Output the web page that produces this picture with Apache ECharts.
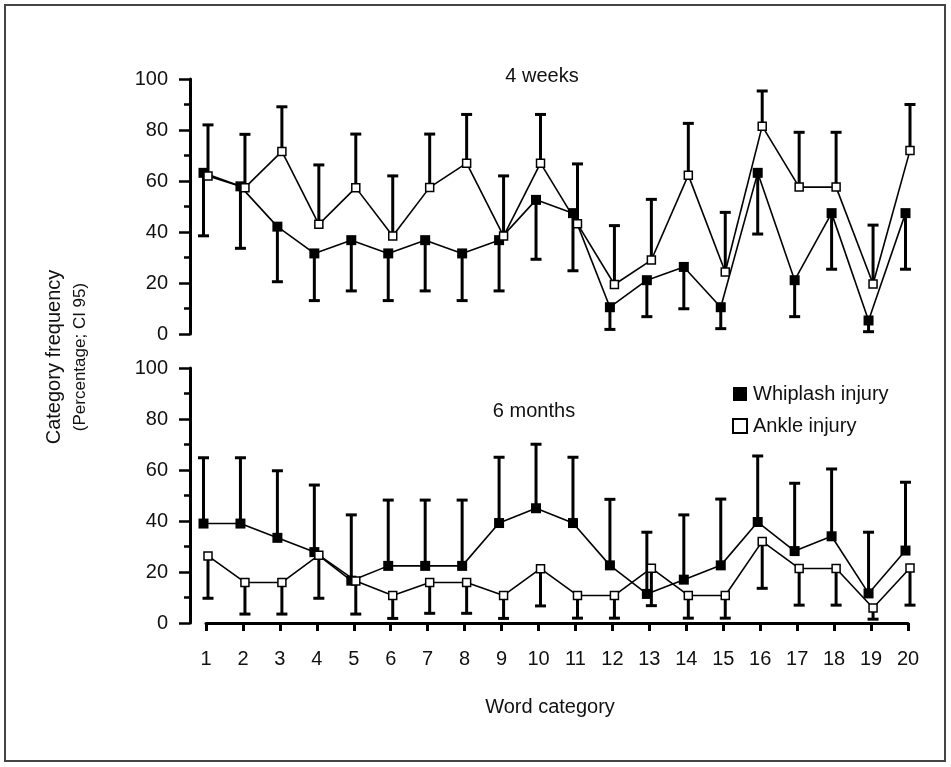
<!DOCTYPE html>
<html>
<head>
<meta charset="utf-8">
<script src="https://cdn.jsdelivr.net/npm/echarts@6/dist/echarts.min.js"></script>
<style>html,body{margin:0;padding:0;background:#fff}#c{width:951px;height:767px}</style>
</head>
<body>
<div id="c"></div>
<script>
// ---- data ----
var categories = [1,2,3,4,5,6,7,8,9,10,11,12,13,14,15,16,17,18,19,20];
var yTicks = [0,20,40,60,80,100];
// 4 weeks
var whip4   = [63.2,57.9,42.1,31.6,36.8,31.6,36.8,31.6,36.8,52.6,47.4,10.5,21.1,26.3,10.5,63.2,21.1,47.4,5.3,47.4];
var whip4Lo = [38.5,33.6,20.5,13.1,16.9,13.1,16.9,13.1,16.9,29.3,24.8,1.8,6.8,9.9,2.1,39.2,6.8,25.4,0.9,25.4];
var ankle4  = [62,57.4,71.6,43,57.4,38.4,57.5,67,38.4,67,43.2,19.4,29,62.3,24.3,81.5,57.6,57.6,19.6,72];
var ankle4Hi= [82,78.3,89.1,66.3,78.4,62,78.4,86.1,62,86.1,66.7,42.5,52.8,82.6,47.7,95.3,79.1,79.1,42.7,90];
// 6 months
var whip6   = [39,39,33.4,27.8,16.6,22.4,22.4,22.4,39.2,45,39.2,22.6,11.4,17,22.6,39.6,28.2,34,11.6,28.4];
var whip6Hi = [64.8,64.8,59.7,54.1,42.4,48.2,48.2,48.2,65,70.1,65,48.5,35.6,42.4,48.6,65.5,54.8,60.4,35.6,55.2];
var ankle6  = [26.3,15.9,15.9,26.6,16.5,10.8,15.9,15.9,10.8,21.3,10.8,10.8,21.5,10.8,10.8,32,21.4,21.4,5.9,21.6];
var ankle6Lo= [9.7,3.5,3.5,9.7,3.5,1.8,3.8,3.8,1.8,6.7,1.9,1.9,6.8,1.9,1.9,13.6,7,7,1.5,7];

var FONT = 'Liberation Sans, Arial, sans-serif';
var DX_W = -2.5, DX_A = 2;

function pairs(vals){ return categories.map(function(c,i){ return [c, vals[i]]; }); }
function triples(vals, bounds){ return categories.map(function(c,i){ return [c, vals[i], bounds[i]]; }); }

function lineSeries(vals, idx, dx){
  return {
    type:'custom', xAxisIndex:idx, yAxisIndex:idx, z:2, silent:true,
    data: pairs(vals),
    renderItem: function(params, api){
      var i = params.dataIndex;
      if (i >= categories.length-1) return null;
      var p0 = api.coord([categories[i], vals[i]]);
      var p1 = api.coord([categories[i+1], vals[i+1]]);
      return {type:'line', shape:{x1:p0[0]+dx,y1:p0[1],x2:p1[0]+dx,y2:p1[1]},
              style:{stroke:'#000', lineWidth:1.6}};
    }
  };
}
function errSeries(vals, bounds, idx, dx){
  return {
    type:'custom', xAxisIndex:idx, yAxisIndex:idx, z:3, silent:true,
    data: triples(vals, bounds),
    renderItem: function(params, api){
      var p0 = api.coord([api.value(0), api.value(1)]);
      var p1 = api.coord([api.value(0), api.value(2)]);
      var x = p0[0]+dx;
      return {type:'group', children:[
        {type:'line', shape:{x1:x,y1:p0[1],x2:x,y2:p1[1]}, style:{stroke:'#000', lineWidth:3}},
        {type:'line', shape:{x1:x-5.5,y1:p1[1],x2:x+5.5,y2:p1[1]}, style:{stroke:'#000', lineWidth:3}}
      ]};
    }
  };
}
function markSeries(name, vals, idx, filled){
  return {
    name:name, type:'scatter', xAxisIndex:idx, yAxisIndex:idx, z:5, silent:true,
    symbol:'rect', symbolSize: filled?10:8,
    symbolOffset:[filled?DX_W:DX_A, 0],
    itemStyle: filled ? {color:'#000', opacity:1} : {color:'#fff', borderColor:'#000', borderWidth:1.5, opacity:1},
    data: pairs(vals)
  };
}

function xAxis(idx, show){
  return {
    gridIndex:idx, type:'value', min:1, max:20, interval:1, show:show, offset:6,
    axisLine:{show:true, lineStyle:{color:'#000', width:3}},
    axisTick:{show:true, length:8, lineStyle:{color:'#000', width:3}},
    axisLabel:{show:true, color:'#111', fontSize:20, fontFamily:FONT, margin:20},
    splitLine:{show:false}
  };
}
function yAxis(idx){
  return {
    gridIndex:idx, type:'value', min:yTicks[0], max:yTicks[yTicks.length-1], interval:20, offset:16,
    axisLine:{show:true, lineStyle:{color:'#000', width:3}},
    axisTick:{show:true, length:11, lineStyle:{color:'#000', width:2.5}},
    minorTick:{show:true, splitNumber:2, length:6, lineStyle:{color:'#000', width:2.5}},
    axisLabel:{color:'#111', fontSize:20, fontFamily:FONT, margin:22},
    splitLine:{show:false}
  };
}

var chart = echarts.init(document.getElementById('c'), null, {renderer:'canvas'});
chart.setOption({
  animation:false,
  backgroundColor:'#fff',
  grid:[
    {left:206, right:43, top:79, height:255},
    {left:206, right:43, top:368, height:255}
  ],
  xAxis:[xAxis(0,false), xAxis(1,true)],
  yAxis:[yAxis(0), yAxis(1)],
  legend:{
    orient:'vertical', left:727, top:379, itemWidth:14, itemHeight:14, itemGap:12,
    icon:'rect', selectedMode:false,
    textStyle:{fontSize:20, fontFamily:FONT, color:'#111', padding:[0,0,0,1]},
    data:['Whiplash injury','Ankle injury']
  },
  graphic:[
    {type:'rect', shape:{x:5,y:5,width:940,height:756}, style:{fill:null, stroke:'#444', lineWidth:2}, z:0},
    {type:'text', x:542, y:76, style:{text:'4 weeks', font:'20px '+FONT, fill:'#111', align:'center', verticalAlign:'middle'}},
    {type:'text', x:534, y:411, style:{text:'6 months', font:'20px '+FONT, fill:'#111', align:'center', verticalAlign:'middle'}},
    {type:'text', x:550, y:707, style:{text:'Word category', font:'20px '+FONT, fill:'#111', align:'center', verticalAlign:'middle'}},
    {type:'text', x:54, y:357, rotation:Math.PI/2, style:{text:'Category frequency', font:'20px '+FONT, fill:'#111', align:'center', verticalAlign:'middle'}},
    {type:'text', x:80, y:357, rotation:Math.PI/2, style:{text:'(Percentage; CI 95)', font:'17px '+FONT, fill:'#111', align:'center', verticalAlign:'middle'}}
  ],
  series:[
    lineSeries(whip4,0,DX_W), lineSeries(ankle4,0,DX_A),
    errSeries(whip4,whip4Lo,0,DX_W), errSeries(ankle4,ankle4Hi,0,DX_A),
    markSeries('Whiplash injury', whip4, 0, true), markSeries('Ankle injury', ankle4, 0, false),
    lineSeries(whip6,1,DX_W), lineSeries(ankle6,1,DX_A),
    errSeries(whip6,whip6Hi,1,DX_W), errSeries(ankle6,ankle6Lo,1,DX_A),
    markSeries('Whiplash injury', whip6, 1, true), markSeries('Ankle injury', ankle6, 1, false)
  ]
});
</script>
</body>
</html>
